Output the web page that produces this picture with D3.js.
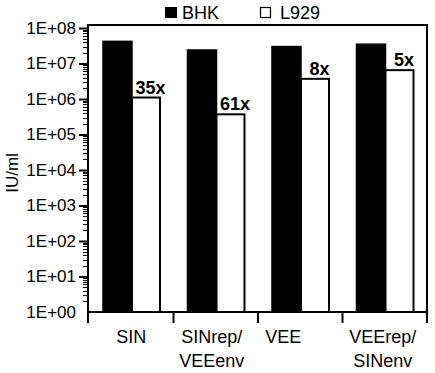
<!DOCTYPE html>
<html><head><meta charset="utf-8">
<script src="https://cdn.jsdelivr.net/npm/d3@7"></script>
<style>body{margin:0;background:#fff}svg{display:block}text{font-family:Arial,"Liberation Sans",sans-serif;fill:#000}</style>
</head><body><svg id="c" width="435" height="373"></svg>
<script>
const categories = [["SIN"], ["SINrep/", "VEEenv"], ["VEE"], ["VEErep/", "SINenv"]];
const seriesNames = ["BHK", "L929"];
const bhk = [4.2e7, 2.4e7, 3.0e7, 3.5e7];
const l929 = [1.1e6, 3.7e5, 3.7e6, 6.5e6];
const foldLabels = ["35x", "61x", "8x", "5x"];
const yTicks = [1, 1e1, 1e2, 1e3, 1e4, 1e5, 1e6, 1e7, 1e8];
const yTickLabels = ["1E+00","1E+01","1E+02","1E+03","1E+04","1E+05","1E+06","1E+07","1E+08"];

const svg = d3.select("#c");
const L = 89, R = 427, T = 25, B = 312;
const x = d3.scaleBand().domain(d3.range(categories.length)).range([L, R]);
const y = d3.scaleLog().domain([1, 1e8]).range([B, 28]);

// minor ticks
const minors = [];
for (let e = 0; e < 8; e++) for (let m = 2; m <= 9; m++) minors.push(m * Math.pow(10, e));
svg.append("g").selectAll("line").data(minors).join("line")
  .attr("x1", L - 6).attr("x2", L).attr("y1", d => Math.round(y(d)) + 0.5).attr("y2", d => Math.round(y(d)) + 0.5)
  .attr("stroke", "#000").attr("stroke-width", 1);

const yAxis = d3.axisLeft(y).tickValues(yTicks).tickFormat((d, i) => yTickLabels[i]).tickSize(10).tickPadding(3);
const gy = svg.append("g").attr("transform", `translate(${L},0)`).call(yAxis);
gy.select(".domain").remove();
gy.selectAll(".tick line").attr("stroke-width", 2).attr("opacity", d => d === 1 ? 0 : 1);
gy.selectAll(".tick text").attr("font-size", 17).style("font-family", "Arial, 'Liberation Sans', sans-serif");

const bw = 29;
const g = svg.append("g");
g.selectAll("rect.bhk").data(bhk).join("rect").attr("class", "bhk")
  .attr("x", (d, i) => x(i) + 14).attr("width", bw)
  .attr("y", d => y(d)).attr("height", d => B - y(d))
  .attr("fill", "#000").attr("stroke", "#000").attr("stroke-width", 1.5);
g.selectAll("rect.l929").data(l929).join("rect").attr("class", "l929")
  .attr("x", (d, i) => x(i) + 14 + bw).attr("width", bw - 1)
  .attr("y", d => y(d)).attr("height", d => B - y(d))
  .attr("fill", "#fff").attr("stroke", "#000").attr("stroke-width", 2);

g.selectAll("text.fold").data(foldLabels).join("text").attr("class", "fold")
  .attr("x", (d, i) => x(i) + 14 + bw + bw / 2 + 4).attr("y", (d, i) => y(l929[i]) - 4)
  .attr("text-anchor", "middle").attr("font-size", 18).attr("font-weight", "bold").text(d => d);

// frame
svg.append("path").attr("d", `M${L - 1},${T} H${R} V${B} H${L - 1}`).attr("fill", "none").attr("stroke", "#000").attr("stroke-width", 2);
svg.append("line").attr("x1", L - 1).attr("x2", L - 1).attr("y1", T - 1).attr("y2", B + 11).attr("stroke", "#000").attr("stroke-width", 2);
// category dividers
svg.append("g").selectAll("line").data(d3.range(1, categories.length + 1)).join("line")
  .attr("x1", i => i < categories.length ? x(i) : R).attr("x2", i => i < categories.length ? x(i) : R)
  .attr("y1", B).attr("y2", B + 11).attr("stroke", "#000").attr("stroke-width", 2);

const labelDx = [0, -4, -17, -2];
const cl = svg.append("g").selectAll("text").data(categories).join("text")
  .attr("text-anchor", "middle").attr("font-size", 18)
  .attr("transform", (d, i) => `translate(${x(i) + x.bandwidth() / 2 + labelDx[i]},343)`);
cl.selectAll("tspan").data(d => d).join("tspan").attr("x", 0).attr("dy", (d, j) => j === 0 ? 0 : 24).text(d => d);

// y label
svg.append("text").attr("transform", "translate(18,173) rotate(-90)").attr("text-anchor", "middle")
  .attr("font-size", 17).text("IU/ml");

// legend
const lg = svg.append("g");
lg.append("rect").attr("x", 165).attr("y", 7).attr("width", 12).attr("height", 11).attr("fill", "#000");
lg.append("text").attr("x", 182).attr("y", 19).attr("font-size", 18).text(seriesNames[0]);
lg.append("rect").attr("x", 260.5).attr("y", 7.5).attr("width", 10).attr("height", 10).attr("fill", "#fff").attr("stroke", "#000").attr("stroke-width", 1.2);
lg.append("text").attr("x", 280).attr("y", 19).attr("font-size", 18).text(seriesNames[1]);
</script></body></html>
